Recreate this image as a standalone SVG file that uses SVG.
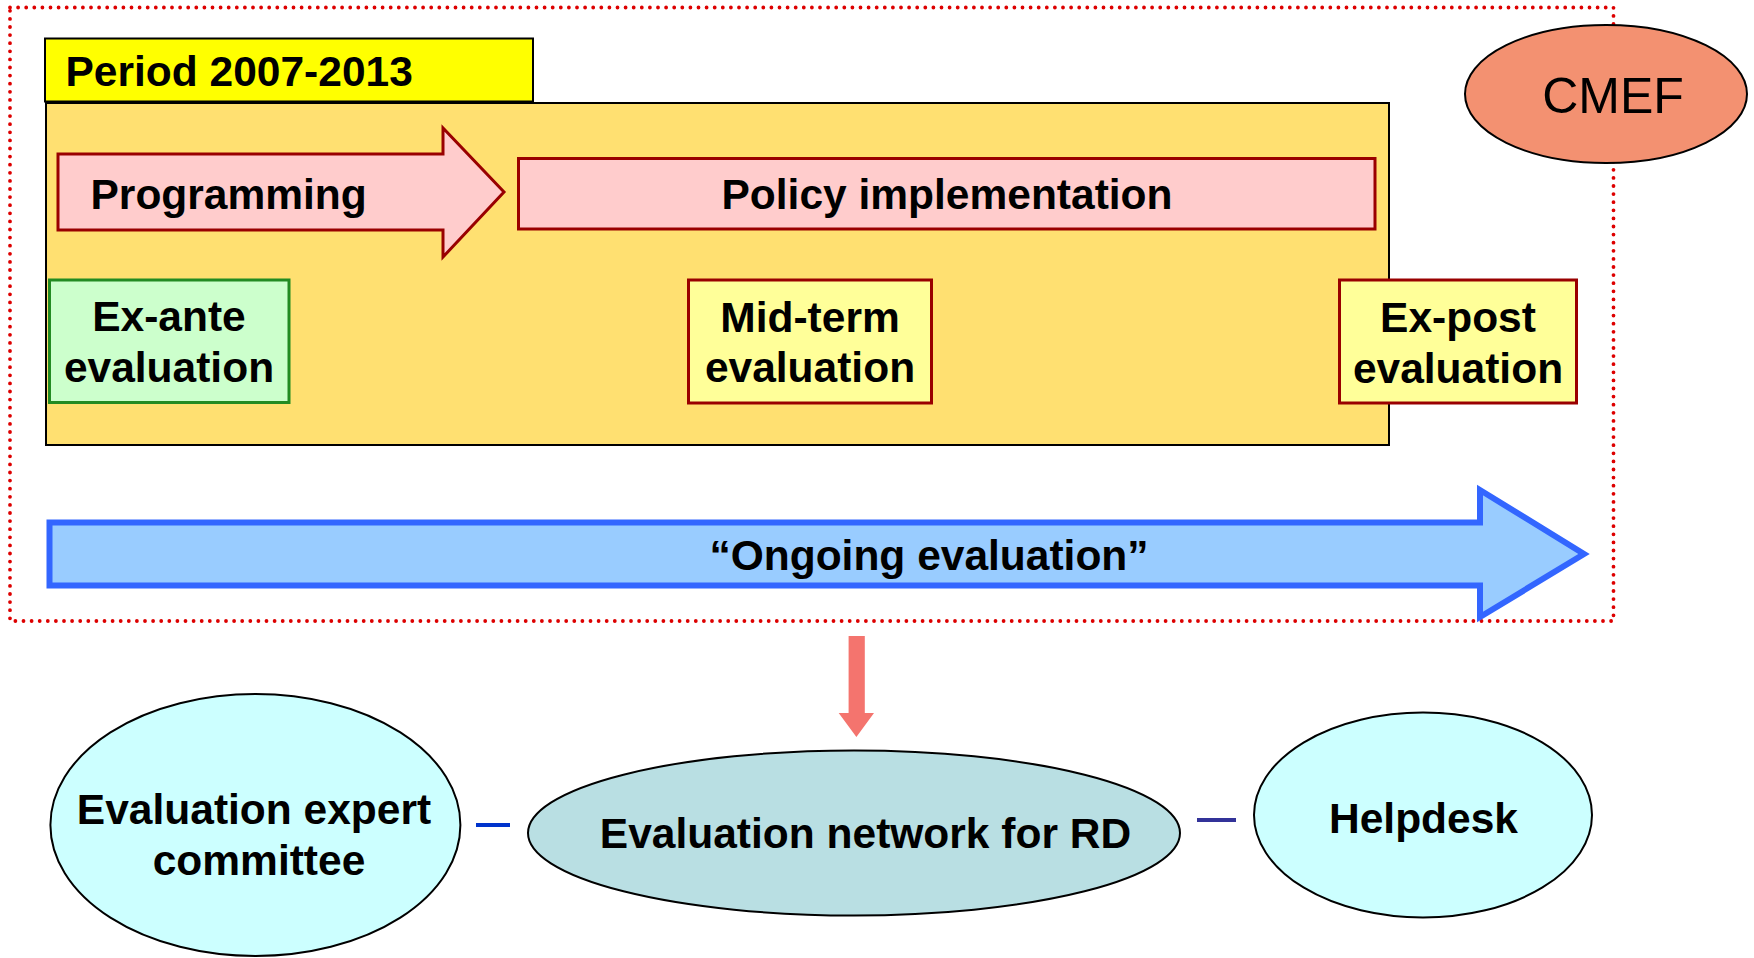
<svg xmlns="http://www.w3.org/2000/svg" width="1754" height="958" viewBox="0 0 1754 958">
  <style>
    text { font-family: "Liberation Sans", Arial, sans-serif; fill: #000; }
    .b { font-weight: bold; font-size: 42.5px; }
    .c { text-anchor: middle; }
    .phase { fill: #FFCCCC; stroke: #990000; stroke-width: 3; stroke-linejoin: miter; }
    .evalbox { fill: #FFFF99; stroke: #990000; stroke-width: 3; }
    .oval { stroke: #000; stroke-width: 2; }
  </style>

  <rect width="1754" height="958" fill="#FFFFFF"/>

  <!-- dotted frame around the programming period -->
  <rect id="frame" x="10" y="7.5" width="1603.5" height="613.5" fill="none" stroke="#DD0000" stroke-width="3.8" stroke-dasharray="0 8.1" stroke-linecap="round"/>

  <g id="period-panel">
    <rect x="46" y="103" width="1343" height="342" fill="#FFE071" stroke="#000" stroke-width="2"/>
  </g>

  <g id="period-label">
    <rect x="45" y="38.5" width="488" height="63" fill="#FFFF00" stroke="#000" stroke-width="2"/>
    <text class="b" x="65.5" y="86">Period 2007-2013</text>
  </g>

  <g id="programming">
    <polygon class="phase" points="58,154 443,154 443,128 504,192 443,257 443,230 58,230"/>
    <text class="b" x="90.5" y="209">Programming</text>
  </g>

  <g id="policy-implementation">
    <rect class="phase" x="518.5" y="158.5" width="856.5" height="70.5"/>
    <text class="b c" x="947" y="209.3">Policy implementation</text>
  </g>

  <g id="ex-ante">
    <rect x="49.5" y="280" width="239.5" height="122.5" fill="#CCFFCC" stroke="#228B22" stroke-width="3"/>
    <text class="b c" x="169" y="331">Ex-ante</text>
    <text class="b c" x="169" y="381.7">evaluation</text>
  </g>

  <g id="mid-term">
    <rect class="evalbox" x="688.5" y="280" width="243" height="123"/>
    <text class="b c" x="810" y="331.5">Mid-term</text>
    <text class="b c" x="810" y="381.7">evaluation</text>
  </g>

  <g id="ex-post">
    <rect class="evalbox" x="1339.5" y="280" width="237" height="123"/>
    <text class="b c" x="1458" y="331.5">Ex-post</text>
    <text class="b c" x="1458" y="382.5">evaluation</text>
  </g>

  <g id="cmef">
    <ellipse cx="1606" cy="94" rx="141" ry="69" fill="#F39171" stroke="#000" stroke-width="2"/>
    <text class="c" x="1613" y="113" font-size="50">CMEF</text>
  </g>

  <g id="ongoing-evaluation">
    <path d="M49.5,522.5 H1480 V490 L1584,554 L1480,617 V585.5 H49.5 Z" fill="#99CCFF" stroke="#3366FF" stroke-width="6" stroke-linejoin="miter"/>
    <text class="b c" x="929" y="570">“Ongoing evaluation”</text>
  </g>

  <g id="connectors">
    <polygon points="848.6,636 864.8,636 864.8,713 874,713 856.4,737 838.7,713 848.6,713" fill="#F4746E"/>
    <line x1="476" y1="825" x2="510" y2="825" stroke="#0033CC" stroke-width="4"/>
    <line x1="1197" y1="820" x2="1236" y2="820" stroke="#333399" stroke-width="4"/>
  </g>

  <g id="expert-committee">
    <ellipse class="oval" cx="255.4" cy="825" rx="205" ry="131" fill="#CCFFFF"/>
    <text class="b c" x="254" y="824">Evaluation expert</text>
    <text class="b c" x="259" y="875">committee</text>
  </g>

  <g id="evaluation-network">
    <ellipse class="oval" cx="854" cy="833" rx="326" ry="82.5" fill="#B9DFE3"/>
    <text class="b c" x="865.5" y="847.5">Evaluation network for RD</text>
  </g>

  <g id="helpdesk">
    <ellipse class="oval" cx="1423" cy="815" rx="169" ry="102.5" fill="#CCFFFF"/>
    <text class="b c" x="1423.5" y="833">Helpdesk</text>
  </g>
</svg>
